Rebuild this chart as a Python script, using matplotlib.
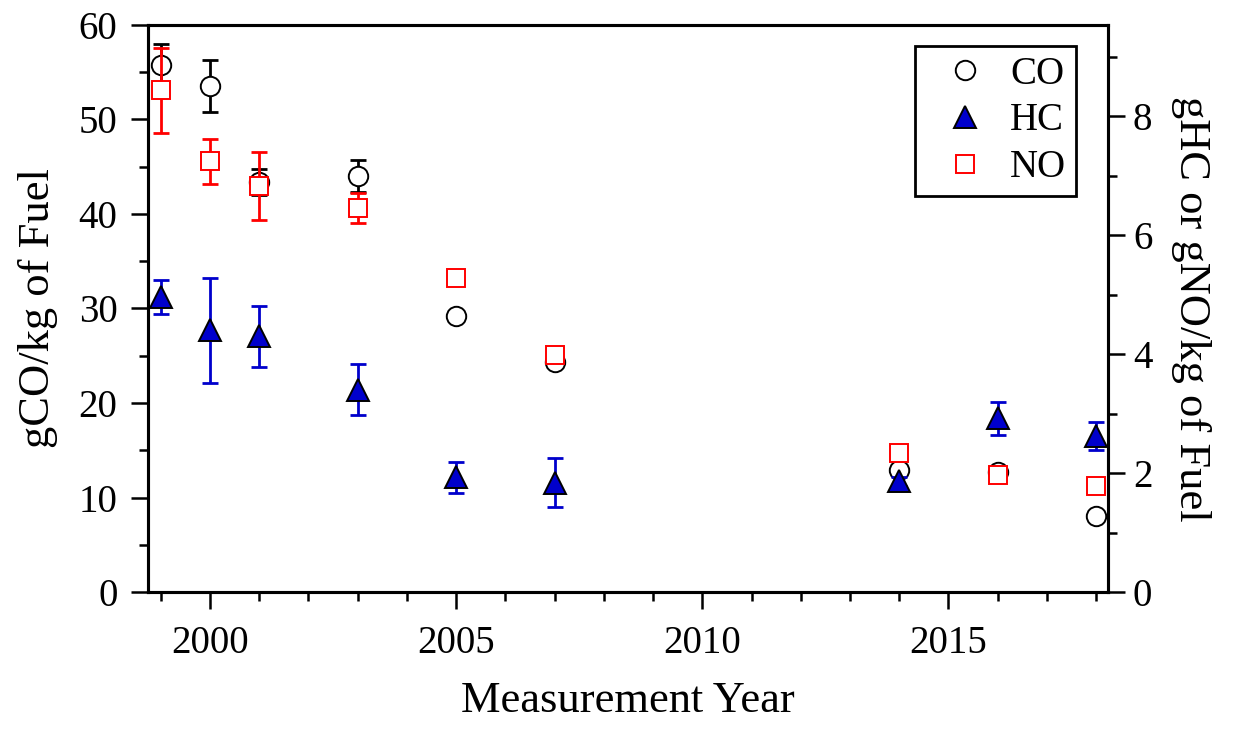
import matplotlib
matplotlib.use('Agg')
import matplotlib.pyplot as plt
from matplotlib.lines import Line2D
from matplotlib.ticker import MultipleLocator

plt.rcParams['font.family'] = ['Liberation Serif', 'DejaVu Serif']

# donnees
years = [1999, 2000, 2001, 2003, 2005, 2007, 2014, 2016, 2018]

co = [55.8, 53.5, 43.4, 44.0, 29.2, 24.3, 12.9, 12.7, 8.0]
co_err = [2.2, 2.75, 1.4, 1.7, 0, 0, 0, 0, 0]

hc = [4.96, 4.40, 4.30, 3.40, 1.93, 1.84, 1.86, 2.92, 2.62]
hc_err = [0.28, 0.88, 0.51, 0.43, 0.26, 0.41, 0.08, 0.28, 0.23]

no = [8.43, 7.24, 6.83, 6.45, 5.27, 3.98, 2.33, 1.97, 1.78]
no_err = [0.72, 0.38, 0.57, 0.25, 0, 0, 0, 0, 0]

blue = '#0000CC'

fig = plt.figure(figsize=(12.33, 7.3), dpi=100)
ax = fig.add_axes([0.12, 0.189, 0.7786, 0.7768])
ax2 = ax.twinx()

# barres d'erreur d'abord, marqueurs par dessus
ax.errorbar(years, co, yerr=co_err, fmt='none', ecolor='black', elinewidth=2,
            capsize=5.8, capthick=2, zorder=2)
ax.plot(years, co, 'o', ms=14, mfc='white', mec='black', mew=1.4, zorder=3)

ax2.errorbar(years, hc, yerr=hc_err, fmt='none', ecolor=blue, elinewidth=2,
             capsize=5.8, capthick=2, zorder=2)
ax2.plot(years, hc, '^', ms=15.5, mfc=blue, mec='black', mew=1.4, zorder=3)

ax2.errorbar(years, no, yerr=no_err, fmt='none', ecolor='red', elinewidth=2,
             capsize=5.8, capthick=2, zorder=4)
ax2.plot(years, no, 's', ms=13.5, mfc='white', mec='red', mew=1.4, zorder=5)

ax.set_xlim(1998.74, 2018.24)
ax.set_ylim(0, 60)
ax2.set_ylim(0, 9.53)

ax.xaxis.set_major_locator(MultipleLocator(5))
ax.xaxis.set_minor_locator(MultipleLocator(1))
ax.yaxis.set_major_locator(MultipleLocator(10))
ax.yaxis.set_minor_locator(MultipleLocator(5))
ax2.yaxis.set_major_locator(MultipleLocator(2))
ax2.yaxis.set_minor_locator(MultipleLocator(1))

for a in (ax, ax2):
    for s in a.spines.values():
        s.set_linewidth(2.2)
    a.tick_params(which='major', direction='out', length=12, width=1.8, labelsize=28)
    a.tick_params(which='minor', direction='out', length=6.5, width=1.8)
ax.tick_params(axis='x', which='major', pad=11.5)
ax.tick_params(axis='y', which='major', pad=10)
ax2.tick_params(axis='y', which='major', pad=6)

ax.set_xlabel('Measurement Year', fontsize=32, labelpad=14)
ax.set_ylabel('gCO/kg of Fuel', fontsize=32, labelpad=15)
ax2.set_ylabel('gHC or gNO/kg of Fuel', fontsize=32, rotation=-90, labelpad=42)

handles = [
    Line2D([], [], ls='none', marker='o', ms=14, mfc='white', mec='black', mew=1.4),
    Line2D([], [], ls='none', marker='^', ms=15.5, mfc=blue, mec='black', mew=1.4),
    Line2D([], [], ls='none', marker='s', ms=13.5, mfc='white', mec='red', mew=1.4),
]
leg = ax2.legend(handles, ['CO', 'HC', 'NO'], loc='upper right', bbox_to_anchor=(0.9667, 0.963),
                 borderaxespad=0, fontsize=28, frameon=True, fancybox=False, edgecolor='black',
                 framealpha=1, handletextpad=0.1, labelspacing=0.25, borderpad=0.25,
                 handlelength=2.1)
leg.get_frame().set_linewidth(2)
leg.set_zorder(10)

fig.savefig('out.png', dpi=100)
